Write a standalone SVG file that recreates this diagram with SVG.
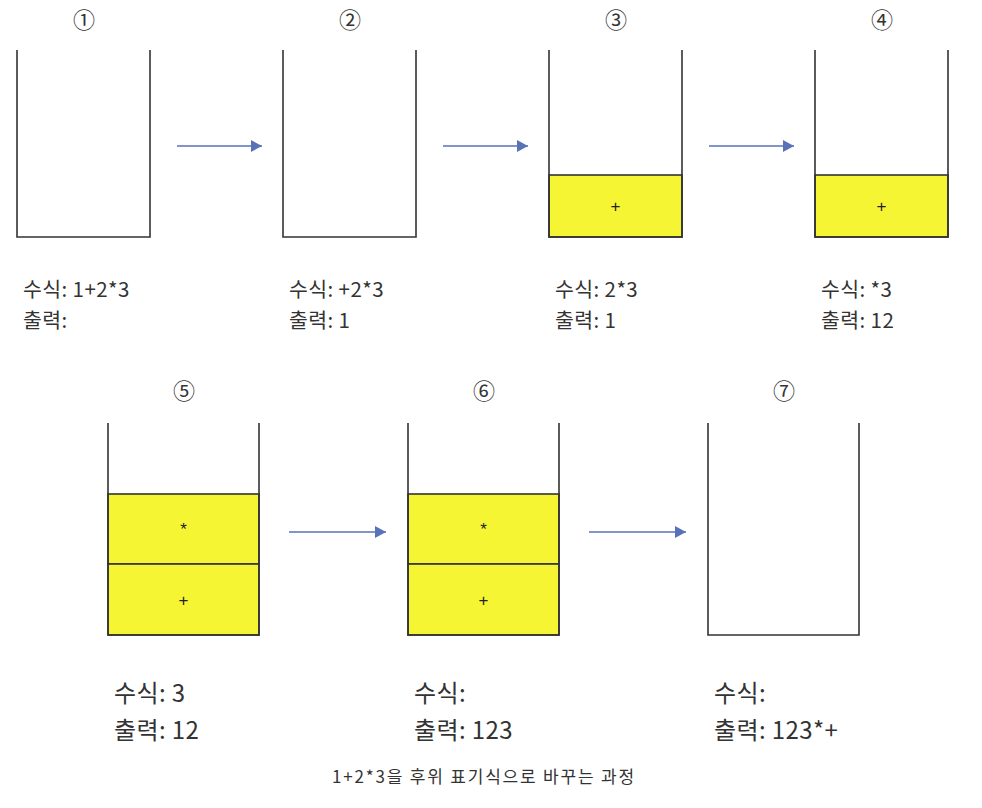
<svg xmlns="http://www.w3.org/2000/svg" width="982" height="808" viewBox="0 0 982 808">
<defs>
<style>
.wall{fill:none;stroke:#333;stroke-width:1.6}
.cell{fill:#f5f534;stroke:#333;stroke-width:1.6}
.arrow{stroke:#5872b8;stroke-width:1.5;fill:none;marker-end:url(#ah)}
.t{font-family:"Noto Sans CJK KR","Noto Sans",sans-serif;fill:#333}
.lab1{font-size:20.5px;letter-spacing:0.4px}
.lab2{font-size:24px;letter-spacing:0.4px}
.num{font-size:22px;text-anchor:middle}
.sym{font-size:17px;text-anchor:middle;font-family:"Liberation Sans",sans-serif;fill:#222}
.cap{font-size:17px;text-anchor:middle;letter-spacing:1.8px}
</style>
<marker id="ah" markerUnits="userSpaceOnUse" markerWidth="12" markerHeight="12" refX="11" refY="6" orient="auto">
<path d="M0,0 L11,6 L0,12 Z" fill="#5872b8"/>
</marker>
</defs>
<rect width="982" height="808" fill="#fff"/>

<g id="connectors">
<line class="arrow" x1="177" y1="146" x2="262" y2="146"/>
<line class="arrow" x1="443" y1="146" x2="528" y2="146"/>
<line class="arrow" x1="709" y1="146" x2="794" y2="146"/>
<line class="arrow" x1="289" y1="532" x2="386" y2="532"/>
<line class="arrow" x1="589" y1="532" x2="686" y2="532"/>
</g>

<g id="step1">
<text class="t num" x="84" y="28">①</text>
<path class="wall" d="M17,50 V237 H150 V50"/>
<text class="t lab1" x="23" y="297">수식: 1+2*3</text>
<text class="t lab1" x="23" y="328">출력:</text>
</g>

<g id="step2">
<text class="t num" x="350" y="28">②</text>
<path class="wall" d="M283,50 V237 H416 V50"/>
<text class="t lab1" x="289" y="297">수식: +2*3</text>
<text class="t lab1" x="289" y="328">출력: 1</text>
</g>

<g id="step3">
<text class="t num" x="616" y="28">③</text>
<rect class="cell" x="549" y="175" width="133" height="62"/>
<path class="wall" d="M549,50 V237 H682 V50"/>
<text class="sym" x="615.5" y="212">+</text>
<text class="t lab1" x="555" y="297">수식: 2*3</text>
<text class="t lab1" x="555" y="328">출력: 1</text>
</g>

<g id="step4">
<text class="t num" x="882" y="28">④</text>
<rect class="cell" x="815" y="175" width="133" height="62"/>
<path class="wall" d="M815,50 V237 H948 V50"/>
<text class="sym" x="881.5" y="212">+</text>
<text class="t lab1" x="821" y="297">수식: *3</text>
<text class="t lab1" x="821" y="328">출력: 12</text>
</g>

<g id="step5">
<text class="t num" x="184" y="399">⑤</text>
<rect class="cell" x="108" y="494" width="151" height="70"/>
<rect class="cell" x="108" y="564" width="151" height="71"/>
<path class="wall" d="M108,423 V635 H259 V423"/>
<text class="sym" x="183.5" y="535">*</text>
<text class="sym" x="183.5" y="606">+</text>
<text class="t lab2" x="114" y="702">수식: 3</text>
<text class="t lab2" x="114" y="739">출력: 12</text>
</g>

<g id="step6">
<text class="t num" x="484" y="399">⑥</text>
<rect class="cell" x="408" y="494" width="151" height="70"/>
<rect class="cell" x="408" y="564" width="151" height="71"/>
<path class="wall" d="M408,423 V635 H559 V423"/>
<text class="sym" x="483.5" y="535">*</text>
<text class="sym" x="483.5" y="606">+</text>
<text class="t lab2" x="414" y="702">수식:</text>
<text class="t lab2" x="414" y="739">출력: 123</text>
</g>

<g id="step7">
<text class="t num" x="784" y="399">⑦</text>
<path class="wall" d="M708,423 V635 H859 V423"/>
<text class="t lab2" x="714" y="702">수식:</text>
<text class="t lab2" x="714" y="739">출력: 123*+</text>
</g>

<text class="t cap" x="484" y="783">1+2*3을 후위 표기식으로 바꾸는 과정</text>
</svg>
